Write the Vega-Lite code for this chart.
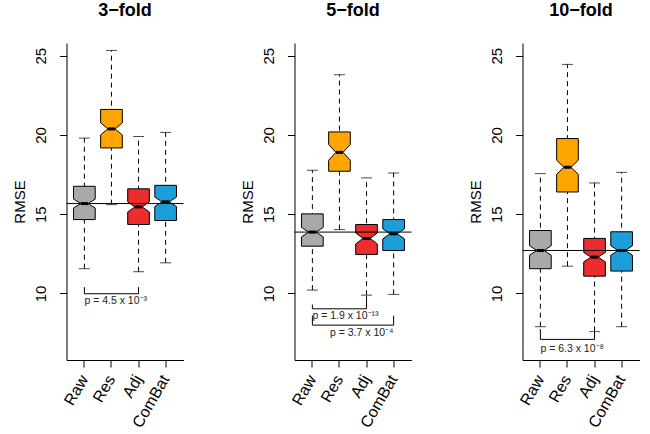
{
  "$schema": "https://vega.github.io/schema/vega-lite/v6.json",
  "background": "white",
  "padding": {"left": 12.5, "top": 1, "right": 0, "bottom": 0},
  "config": {
    "view": {"stroke": null},
    "font": "Liberation Sans",
    "axis": {"grid": false, "domainColor": "black", "tickColor": "black", "labelColor": "black", "titleColor": "black", "labelFont": "Liberation Sans", "titleFont": "Liberation Sans"}
  },
  "datasets": {
    "verts": [
      {"stat": "q1", "edges": ["L", "R"], "ks": [0, 9]},
      {"stat": "nlo", "edges": ["L", "R"], "ks": [1, 8]},
      {"stat": "med", "edges": ["l", "r"], "ks": [2, 7]},
      {"stat": "nhi", "edges": ["L", "R"], "ks": [3, 6]},
      {"stat": "q3", "edges": ["L", "R"], "ks": [4, 5]}
    ]
  },
  "data": {
    "values": [
      {"kind": "box", "cv": "3−fold", "group": "Raw", "lo": 11.56, "q1": 14.66, "nlo": 15.39, "med": 15.67, "nhi": 15.95, "q3": 16.76, "hi": 19.8},
      {"kind": "box", "cv": "3−fold", "group": "Res", "lo": 15.6, "q1": 19.18, "nlo": 20.0, "med": 20.38, "nhi": 20.76, "q3": 21.61, "hi": 25.33},
      {"kind": "box", "cv": "3−fold", "group": "Adj", "lo": 11.37, "q1": 14.35, "nlo": 15.14, "med": 15.46, "nhi": 15.78, "q3": 16.6, "hi": 19.9},
      {"kind": "box", "cv": "3−fold", "group": "ComBat", "lo": 11.93, "q1": 14.6, "nlo": 15.48, "med": 15.78, "nhi": 16.08, "q3": 16.82, "hi": 20.16},
      {"kind": "box", "cv": "5−fold", "group": "Raw", "lo": 10.21, "q1": 12.98, "nlo": 13.57, "med": 13.87, "nhi": 14.17, "q3": 15.02, "hi": 17.77},
      {"kind": "box", "cv": "5−fold", "group": "Res", "lo": 14.03, "q1": 17.71, "nlo": 18.4, "med": 18.9, "nhi": 19.4, "q3": 20.19, "hi": 23.8},
      {"kind": "box", "cv": "5−fold", "group": "Adj", "lo": 9.89, "q1": 12.46, "nlo": 13.12, "med": 13.47, "nhi": 13.82, "q3": 14.35, "hi": 17.29},
      {"kind": "box", "cv": "5−fold", "group": "ComBat", "lo": 9.94, "q1": 12.71, "nlo": 13.44, "med": 13.76, "nhi": 14.08, "q3": 14.66, "hi": 17.6},
      {"kind": "box", "cv": "10−fold", "group": "Raw", "lo": 7.9, "q1": 11.56, "nlo": 12.41, "med": 12.71, "nhi": 13.01, "q3": 13.97, "hi": 17.56},
      {"kind": "box", "cv": "10−fold", "group": "Res", "lo": 11.72, "q1": 16.4, "nlo": 17.51, "med": 17.96, "nhi": 18.41, "q3": 19.77, "hi": 24.45},
      {"kind": "box", "cv": "10−fold", "group": "Adj", "lo": 7.59, "q1": 11.09, "nlo": 11.99, "med": 12.29, "nhi": 12.59, "q3": 13.47, "hi": 16.97},
      {"kind": "box", "cv": "10−fold", "group": "ComBat", "lo": 7.9, "q1": 11.41, "nlo": 12.41, "med": 12.71, "nhi": 13.01, "q3": 13.89, "hi": 17.64},
      {"kind": "test", "cv": "3−fold", "from": "Raw", "to": "Adj", "y": 9.98, "yl": 10.4, "yr": 10.4, "ty": 9.5, "label": "p = 4.5 x 10⁻³"},
      {"kind": "test", "cv": "5−fold", "from": "Raw", "to": "Adj", "y": 9.03, "yl": 9.3, "yr": 9.83, "ty": 8.57, "label": "p = 1.9 x 10⁻¹³"},
      {"kind": "test", "cv": "5−fold", "from": "Raw", "to": "ComBat", "y": 8.0, "yl": 8.6, "yr": 8.6, "ty": 7.52, "label": "p = 3.7 x 10⁻⁴"},
      {"kind": "test", "cv": "10−fold", "from": "Raw", "to": "Adj", "y": 7.1, "yl": 7.75, "yr": 7.9, "ty": 6.47, "label": "p = 6.3 x 10⁻⁸"}
    ]
  },
  "transform": [
    {"fold": ["q1", "nlo", "med", "nhi", "q3"], "as": ["stat", "v"]},
    {"lookup": "stat", "from": {"data": {"name": "verts"}, "key": "stat", "fields": ["edges", "ks"]}},
    {"flatten": ["edges", "ks"], "as": ["edge", "k"]}
  ],
  "facet": {
    "column": {
      "field": "cv", "type": "nominal", "sort": ["3−fold", "5−fold", "10−fold"],
      "header": {"title": null, "labelFontSize": 18, "labelFontWeight": "bold", "labelPadding": 23.5, "labelColor": "black", "labelFont": "Liberation Sans"}
    }
  },
  "spacing": 56,
  "resolve": {"axis": {"x": "independent", "y": "independent"}},
  "spec": {
    "width": 117,
    "height": 317,
    "layer": [
      {
        "transform": [{"filter": "datum.kind === 'box' && datum.k === 0"}],
        "mark": {"type": "rule", "color": "black", "strokeDash": [5, 4], "strokeWidth": 1},
        "encoding": {
          "x": {"field": "group", "type": "nominal", "scale": {"type": "band", "domain": ["Raw", "Res", "Adj", "ComBat"], "paddingInner": 0, "paddingOuter": 0.16},
            "axis": {"title": null, "labelAngle": 300, "labelAlign": "right", "labelBaseline": "middle", "labelFontSize": 16, "tickSize": 7, "labelPadding": 9}},
          "y": {"field": "lo", "type": "quantitative", "scale": {"domain": [5.8, 25.8], "nice": false, "zero": false},
            "axis": {"title": "RMSE", "values": [10, 15, 20, 25], "tickSize": 7, "labelAngle": 270, "labelAlign": "center", "labelBaseline": "bottom", "labelPadding": 11, "labelFontSize": 15, "titleFontSize": 15, "titleFontWeight": "normal", "titlePadding": 6}},
          "y2": {"field": "hi"}
        }
      },
      {
        "transform": [{"filter": "datum.kind === 'box' && datum.k === 0"}, {"fold": ["lo", "hi"], "as": ["end", "w"]}],
        "mark": {"type": "tick", "orient": "horizontal", "color": "black", "size": 11, "thickness": 1},
        "encoding": {
          "x": {"field": "group", "type": "nominal"},
          "y": {"field": "w", "type": "quantitative"}
        }
      },
      {
        "transform": [{"filter": "datum.kind === 'box'"}],
        "mark": {"type": "line", "interpolate": "linear-closed", "stroke": "black", "strokeWidth": 1},
        "encoding": {
          "x": {"field": "group", "type": "nominal"},
          "xOffset": {"field": "edge", "type": "nominal", "scale": {"type": "point", "domain": ["L", "a", "l", "c", "r", "b", "R"], "padding": 0.75}},
          "y": {"field": "v", "type": "quantitative"},
          "fill": {"field": "group", "type": "nominal", "scale": {"domain": ["Raw", "Res", "Adj", "ComBat"], "range": ["#A9A9A9", "#FFA500", "#EC2D2D", "#1C9FD8"]}, "legend": null},
          "detail": {"field": "group"},
          "order": {"field": "k", "type": "quantitative"}
        }
      },
      {
        "transform": [{"filter": "datum.kind === 'box' && datum.stat === 'med'"}],
        "mark": {"type": "line", "stroke": "black", "strokeWidth": 3, "strokeCap": "butt"},
        "encoding": {
          "x": {"field": "group", "type": "nominal"},
          "xOffset": {"field": "edge", "type": "nominal"},
          "y": {"field": "v", "type": "quantitative"},
          "detail": {"field": "group"},
          "order": {"field": "k", "type": "quantitative"}
        }
      },
      {
        "transform": [{"filter": "datum.kind === 'box' && datum.k === 0 && datum.group === 'Raw'"}],
        "mark": {"type": "rule", "color": "black", "strokeWidth": 1},
        "encoding": {
          "y": {"field": "med", "type": "quantitative"}
        }
      },
      {
        "transform": [{"filter": "datum.kind === 'test' && datum.k === 0"}],
        "mark": {"type": "rule", "color": "black", "strokeWidth": 1},
        "encoding": {
          "x": {"field": "from", "type": "nominal"},
          "x2": {"field": "to"},
          "y": {"field": "y", "type": "quantitative"}
        }
      },
      {
        "transform": [{"filter": "datum.kind === 'test' && datum.k === 0"}],
        "mark": {"type": "rule", "color": "black", "strokeWidth": 1},
        "encoding": {
          "x": {"field": "from", "type": "nominal"},
          "y": {"field": "y", "type": "quantitative"},
          "y2": {"field": "yl"}
        }
      },
      {
        "transform": [{"filter": "datum.kind === 'test' && datum.k === 0"}],
        "mark": {"type": "rule", "color": "black", "strokeWidth": 1},
        "encoding": {
          "x": {"field": "to", "type": "nominal"},
          "y": {"field": "y", "type": "quantitative"},
          "y2": {"field": "yr"}
        }
      },
      {
        "transform": [{"filter": "datum.kind === 'test' && datum.k === 0 && datum.to === 'Adj'"}],
        "mark": {"type": "text", "align": "left", "baseline": "middle", "fontSize": 10.5, "color": "#222222"},
        "encoding": {
          "x": {"field": "from", "type": "nominal"},
          "y": {"field": "ty", "type": "quantitative"},
          "text": {"field": "label"}
        }
      },
      {
        "transform": [{"filter": "datum.kind === 'test' && datum.k === 0 && datum.to === 'ComBat'"}],
        "mark": {"type": "text", "align": "right", "baseline": "middle", "fontSize": 10.5, "color": "#222222"},
        "encoding": {
          "x": {"field": "to", "type": "nominal"},
          "y": {"field": "ty", "type": "quantitative"},
          "text": {"field": "label"}
        }
      }
    ]
  }
}
